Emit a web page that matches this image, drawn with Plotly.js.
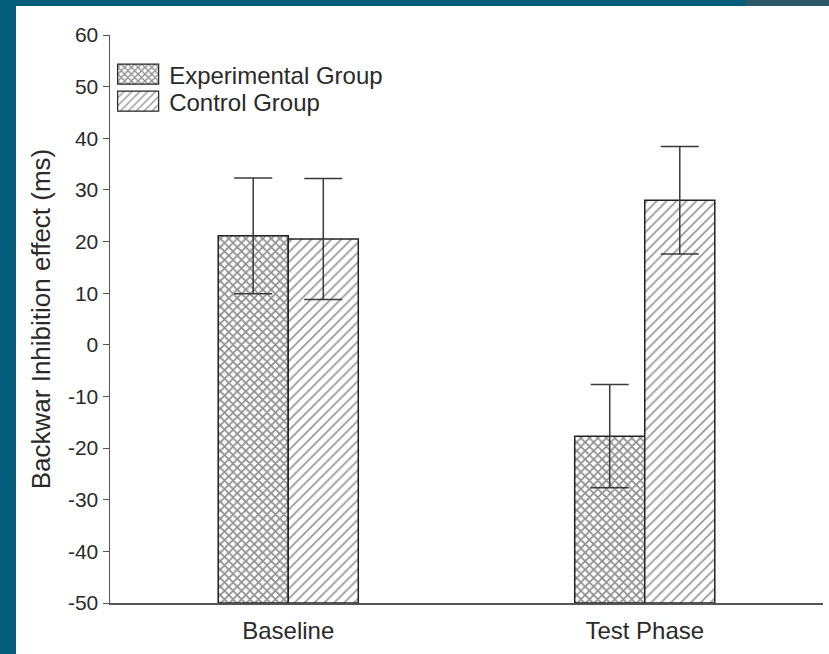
<!DOCTYPE html>
<html>
<head>
<meta charset="utf-8">
<script src="https://cdn.plot.ly/plotly-3.0.1.min.js"></script>
<style>
  html, body { margin: 0; padding: 0; width: 829px; height: 654px; overflow: hidden; background: #045e7a; }
  #corner { position: absolute; left: 745px; top: 0; width: 84px; height: 6px; background: #2a5767; }
  #chart { position: absolute; left: 16px; top: 6px; width: 813px; height: 648px; background: #ffffff; }
</style>
</head>
<body>
<div id="corner"></div>
<div id="chart"></div>
<script>
const categories = ["Baseline", "Test Phase"];
const experimentalValues = [21.1, -17.7];
const experimentalErrors = [11.2, 10.0];
const controlValues = [20.5, 28.0];
const controlErrors = [11.7, 10.4];
const yTickValues = [-50, -40, -30, -20, -10, 0, 10, 20, 30, 40, 50, 60];
const barFloor = -50;

const fontFamily = "'Liberation Sans', Arial, sans-serif";
const textColor = "#2a2a2a";

function barTrace(name, values, errors, pattern) {
  return {
    type: "bar",
    name: name,
    x: categories,
    base: values.map(() => barFloor),
    y: values.map(v => v - barFloor),
    error_y: { type: "data", array: errors, visible: true, color: "#3a3a3a", thickness: 1.5, width: 19 },
    marker: {
      color: "#ffffff",
      line: { color: "#222222", width: 1.5 },
      pattern: pattern
    }
  };
}

const traceExp = barTrace("Experimental Group", experimentalValues, experimentalErrors,
  { shape: "x", fgcolor: "#1e1e1e", bgcolor: "#ffffff", size: 6, solidity: 0.5, fillmode: "overlay" });
const traceCtl = barTrace("Control Group", controlValues, controlErrors,
  { shape: "/", fgcolor: "#333333", bgcolor: "#ffffff", size: 7, solidity: 0.25, fillmode: "overlay" });

const layout = {
  width: 813,
  height: 648,
  paper_bgcolor: "#ffffff",
  plot_bgcolor: "#ffffff",
  margin: { l: 94, r: 6, t: 29, b: 51 },
  barmode: "group",
  bargap: 0.607,
  bargroupgap: 0,
  font: { family: fontFamily, color: textColor },
  showlegend: true,
  legend: {
    x: -0.004, y: 0.97, xanchor: "left", yanchor: "top",
    bgcolor: "rgba(0,0,0,0)",
    font: { size: 24, family: fontFamily, color: textColor },
    tracegroupgap: 0,
    itemwidth: 52
  },
  xaxis: {
    type: "category",
    range: [-0.5, 1.5],
    showline: true, linecolor: "#555555", linewidth: 1.5,
    ticks: "", showgrid: false, zeroline: false,
    ticklabelstandoff: 6,
    tickfont: { size: 24, family: fontFamily, color: textColor }
  },
  yaxis: {
    range: [-50, 60],
    tickvals: yTickValues,
    ticktext: yTickValues.map(v => String(v)),
    ticks: "outside", ticklen: 6, tickcolor: "#555555", tickwidth: 1,
    showline: true, linecolor: "#555555", linewidth: 1.5,
    showgrid: false, zeroline: false,
    tickfont: { size: 21, family: fontFamily, color: textColor },
    title: { text: "Backwar Inhibition effect (ms)", font: { size: 26, family: fontFamily, color: textColor }, standoff: 10 }
  }
};

Plotly.newPlot("chart", [traceExp, traceCtl], layout, { displayModeBar: false, staticPlot: true }).then(gd => {
  const items = gd.querySelectorAll(".legend .traces");
  let y0 = null;
  items.forEach((g, i) => {
    const t = g.getAttribute("transform") || "";
    const m = t.match(/translate\(([-\d.]+)[ ,]+([-\d.]+)\)/);
    if (m) {
      if (y0 === null) y0 = parseFloat(m[2]);
      g.setAttribute("transform", "translate(" + m[1] + "," + (y0 + i * 27) + ")");
    }
    g.querySelectorAll(".legendpoints path").forEach(p => {
      p.setAttribute("d", "M20.5,10H-20.5V-10H20.5Z");
      p.style.strokeWidth = "1.2px";
    });
  });
});
</script>
</body>
</html>
